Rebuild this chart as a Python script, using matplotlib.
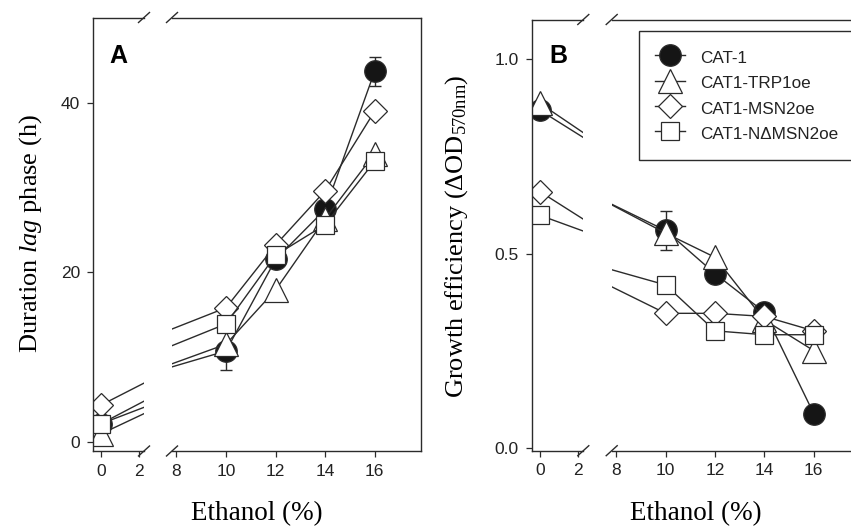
import matplotlib.pyplot as plt

plt.rcParams["font.family"] = ["Liberation Sans", "DejaVu Sans"]
plt.rcParams["mathtext.fontset"] = "custom"
plt.rcParams["mathtext.rm"] = "Liberation Serif"
plt.rcParams["mathtext.it"] = "Liberation Serif:italic"

ethanol = [0, 10, 12, 14, 16]
strains = ["CAT-1", "CAT1-TRP1oe", "CAT1-MSN2oe", "CAT1-N\u0394MSN2oe"]

# lag phase duration (h)
lag_cat1 = [2.1, 10.7, 21.5, 27.4, 43.7]
lag_trp1 = [0.9, 11.5, 17.9, 26.3, 34.0]
lag_msn2 = [4.3, 15.8, 23.2, 29.6, 39.0]
lag_nmsn2 = [2.1, 13.9, 22.0, 25.6, 33.1]
lag_cat1_err = [0, 2.3, 0, 0, 1.7]

# growth efficiency (delta OD570)
eff_cat1 = [0.869, 0.560, 0.449, 0.350, 0.089]
eff_trp1 = [0.887, 0.553, 0.491, 0.330, 0.251]
eff_msn2 = [0.660, 0.347, 0.347, 0.339, 0.302]
eff_nmsn2 = [0.599, 0.420, 0.302, 0.292, 0.292]
eff_cat1_err = [0, 0.05, 0, 0, 0]

INK = "#2b2b2b"
STYLES = [
    dict(marker="o", ms=15.5, mfc="#151515"),
    dict(marker="^", ms=17, mfc="white"),
    dict(marker="D", ms=12, mfc="white"),
    dict(marker="s", ms=13.5, mfc="white"),
]

W, H = 851, 529
fig = plt.figure(figsize=(W / 100, H / 100), dpi=100)


def px_axes(x0, x1, top, bottom):
    return fig.add_axes([x0 / W, 1 - bottom / H, (x1 - x0) / W, (bottom - top) / H])


def add_break(ax, xfrac, wpx, hpx):
    dx, dy = 5.5 / wpx, 5.0 / hpx
    for yf in (0, 1):
        ax.plot([xfrac - dx, xfrac + dx], [yf - dy, yf + dy], transform=ax.transAxes,
                color=INK, lw=1.0, clip_on=False)


def panel(xs, top, bottom, series, err, ylim, yticks, yticklabels):
    (l0, l1), (r0, r1) = xs
    left = px_axes(l0, l1, top, bottom)
    right = px_axes(r0, r1, top, bottom)
    for ax in (left, right):
        for vals, st in zip(series, STYLES):
            ax.plot(ethanol, vals, color=INK, lw=1.0, mec=INK, mew=0.9, **st)
        idx = [i for i, e in enumerate(err) if e > 0]
        ax.errorbar([ethanol[i] for i in idx], [series[0][i] for i in idx],
                    yerr=[err[i] for i in idx], fmt="none", ecolor=INK,
                    elinewidth=1.0, capsize=4.5, capthick=1.0, zorder=1.5)
        ax.set_ylim(*ylim)
        for s in ax.spines.values():
            s.set_color(INK)
            s.set_linewidth(1.0)
        ax.tick_params(direction="out", length=4.2, width=0.9, color=INK,
                       labelsize=12.5, labelcolor="#222222", pad=5)
    left.set_xlim(-0.42, 2.27)
    right.set_xlim(7.82, 17.87)
    left.set_xticks([0, 2])
    right.set_xticks([8, 10, 12, 14, 16])
    left.set_yticks(yticks)
    left.set_yticklabels(yticklabels)
    right.set_yticks([])
    left.spines["right"].set_visible(False)
    right.spines["left"].set_visible(False)
    add_break(left, 1, l1 - l0, bottom - top)
    add_break(right, 0, r1 - r0, bottom - top)
    return left, right


a_left, a_right = panel(((92.7, 144.0), (172.0, 421.0)), 17.5, 451,
                        [lag_cat1, lag_trp1, lag_msn2, lag_nmsn2], lag_cat1_err,
                        (-1.1, 50.05), [0, 20, 40], ["0", "20", "40"])
b_left, b_right = panel(((531.7, 583.3), (611.7, 860.0)), 19.5, 450.7,
                        [eff_cat1, eff_trp1, eff_msn2, eff_nmsn2], eff_cat1_err,
                        (-0.006, 1.102), [0, 0.5, 1.0], ["0.0", "0.5", "1.0"])

serif = ["Liberation Serif", "DejaVu Serif"]
fig.text(31 / W, 1 - 234 / H, "Duration $\\it{lag}$ phase (h)", rotation=90,
         ha="center", va="center", fontsize=19, family=serif)
fig.text(457 / W, 1 - 236 / H, "Growth efficiency (\u0394OD$_{\\rm{570nm}}$)", rotation=90,
         ha="center", va="center", fontsize=19, family=serif)
for cx in (257, 696):
    fig.text(cx / W, 1 - 520 / H, "Ethanol (%)", ha="center", va="baseline",
             fontsize=19.5, family=serif)

fig.text(109 / W, 1 - 63 / H, "A", ha="left", va="baseline", fontsize=18, fontweight="bold")
fig.text(549 / W, 1 - 63 / H, "B", ha="left", va="baseline", fontsize=18, fontweight="bold")

handles = b_right.get_lines()[:4]
leg = b_right.legend(handles, strains, loc="upper left",
                     bbox_to_anchor=(639 / W, 1 - 31 / H), bbox_transform=fig.transFigure,
                     borderaxespad=0, fontsize=12.3, handlelength=1.75, handletextpad=0.9,
                     handleheight=1.45, labelspacing=0.3, borderpad=0.95,
                     fancybox=False, framealpha=1)
leg.get_frame().set_edgecolor(INK)
leg.get_frame().set_linewidth(1.0)
for t in leg.get_texts():
    t.set_color("#222222")

fig.savefig("out.png", dpi=100)
